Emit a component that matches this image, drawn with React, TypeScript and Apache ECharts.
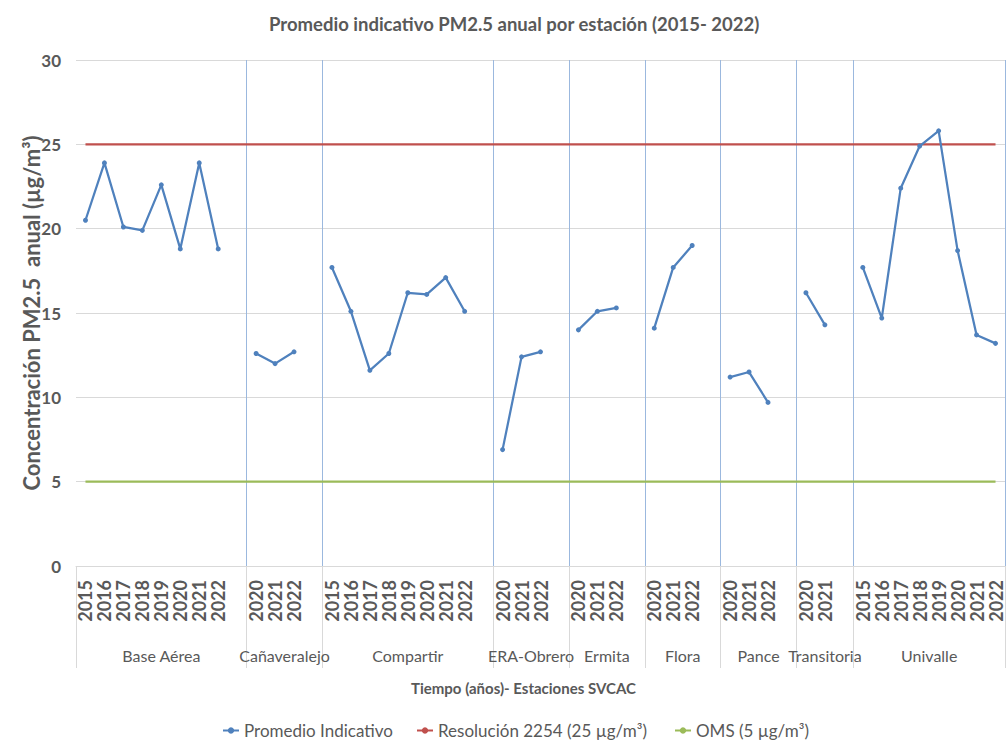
import React, { useEffect, useRef } from 'react';
import * as echarts from 'echarts';

const stations = ['Base Aérea', 'Cañaveralejo', 'Compartir', 'ERA-Obrero', 'Ermita', 'Flora', 'Pance', 'Transitoria', 'Univalle'];
const stationYears: string[][] = [
  ['2015', '2016', '2017', '2018', '2019', '2020', '2021', '2022'],
  ['2020', '2021', '2022'],
  ['2015', '2016', '2017', '2018', '2019', '2020', '2021', '2022'],
  ['2020', '2021', '2022'],
  ['2020', '2021', '2022'],
  ['2020', '2021', '2022'],
  ['2020', '2021', '2022'],
  ['2020', '2021'],
  ['2015', '2016', '2017', '2018', '2019', '2020', '2021', '2022'],
];
const stationValues: number[][] = [
  [20.5, 23.9, 20.1, 19.9, 22.6, 18.8, 23.9, 18.8],
  [12.6, 12.0, 12.7],
  [17.7, 15.1, 11.6, 12.6, 16.2, 16.1, 17.1, 15.1],
  [6.9, 12.4, 12.7],
  [14.0, 15.1, 15.3],
  [14.1, 17.7, 19.0],
  [11.2, 11.5, 9.7],
  [16.2, 14.3],
  [17.7, 14.7, 22.4, 24.9, 25.8, 18.7, 13.7, 13.2],
];
const resolucionLimit = 25;
const omsLimit = 5;
const yMin = 0;
const yMax = 30;
const yInterval = 5;

const seriesNames = ['Promedio Indicativo', 'Resolución 2254 (25 µg/m³)', 'OMS (5 µg/m³)'];
const legendLefts = [217, 411, 669];
const FONT = 'Lato, "Open Sans", sans-serif';
const TXT = '#595959';

export default function App() {
  const ref = useRef<HTMLDivElement>(null);
  useEffect(() => {
    const chart = echarts.init(ref.current!, null, { renderer: 'svg' });
    const cats: string[] = [];
    const vals: (number | null)[] = [];
    const starts: number[] = [];
    const centers: number[] = [];
    stations.forEach((s, i) => {
      const start = cats.length;
      starts.push(start);
      stationYears[i].forEach((y, j) => {
        cats.push(y);
        vals.push(stationValues[i][j]);
      });
      if (i < stations.length - 1) {
        cats.push('');
        vals.push(null);
      }
      centers.push((start + cats.length - 1) / 2);
    });
    const n = cats.length;
    const groupCats: string[] = new Array(2 * n + 1).fill('');
    centers.forEach((c, i) => {
      groupCats[Math.round(2 * c + 1)] = stations[i];
    });

    chart.setOption({
      animation: false,
      title: {
        text: 'Promedio indicativo PM2.5 anual por estación (2015- 2022)',
        left: 264,
        top: 9,
        textStyle: { fontFamily: FONT, fontSize: 18.5, fontWeight: 'bold', color: TXT },
      },
      legend: seriesNames.map((name, i) => ({
        data: [name],
        left: legendLefts[i],
        top: 717,
        itemWidth: 16,
        itemHeight: 8,
        itemGap: 0,
        textStyle: { fontFamily: FONT, fontSize: 17, color: TXT },
      })),
      grid: { left: 76, top: 60, width: 929, bottom: 183, outerBoundsMode: 'none', containLabel: false },
      xAxis: [
        {
          type: 'category',
          data: cats,
          boundaryGap: true,
          name: 'Tiempo (años)- Estaciones SVCAC',
          nameLocation: 'middle',
          nameGap: 114,
          nameTextStyle: { fontFamily: FONT, fontSize: 15, fontWeight: 'bold', color: TXT, padding: [0, 34, 0, 0] },
          axisLine: { show: true, lineStyle: { color: '#d9d9d9', width: 1 } },
          axisTick: {
            show: true,
            interval: (idx: number) => starts.includes(idx),
            length: 102,
            lineStyle: { color: '#d9d9d9', width: 1 },
          },
          splitLine: {
            show: true,
            interval: (idx: number) => idx > 0 && starts.includes(idx),
            lineStyle: { color: '#9bb8de', width: 1 },
          },
          axisLabel: {
            interval: 0,
            rotate: 90,
            margin: 14,
            lineHeight: 14,
            fontFamily: FONT,
            fontSize: 18,
            fontWeight: 'bold',
            color: TXT,
          },
        },
        {
          type: 'category',
          data: groupCats,
          boundaryGap: false,
          position: 'bottom',
          offset: 81,
          axisLine: { show: false },
          axisTick: { show: false },
          splitLine: { show: false },
          axisLabel: {
            interval: 0,
            margin: 0,
            fontFamily: FONT,
            fontSize: 16,
            color: TXT,
          },
        },
      ],
      yAxis: {
        type: 'value',
        min: yMin,
        max: yMax,
        interval: yInterval,
        name: 'Concentración PM2.5  anual (µg/m³)',
        nameLocation: 'middle',
        nameGap: 34,
        nameMoveOverlap: false,
        nameTextStyle: { fontFamily: FONT, fontSize: 22, fontWeight: 'bold', color: TXT },
        axisLine: { show: false },
        axisTick: { show: false },
        splitLine: { lineStyle: { color: '#d9d9d9', width: 1 } },
        axisLabel: { margin: 15, fontFamily: FONT, fontSize: 17, fontWeight: 'bold', color: TXT },
      },
      series: [
        {
          name: seriesNames[0],
          type: 'line',
          data: vals,
          xAxisIndex: 0,
          symbol: 'circle',
          symbolSize: 5,
          connectNulls: false,
          itemStyle: { color: '#4F81BD' },
          lineStyle: { color: '#4F81BD', width: 2.25 },
          z: 5,
        },
        {
          name: seriesNames[1],
          type: 'line',
          data: cats.map(() => resolucionLimit),
          xAxisIndex: 0,
          symbol: 'none',
          itemStyle: { color: '#C0504D' },
          lineStyle: { color: '#C0504D', width: 2.25 },
          z: 3,
        },
        {
          name: seriesNames[2],
          type: 'line',
          data: cats.map(() => omsLimit),
          xAxisIndex: 0,
          symbol: 'none',
          itemStyle: { color: '#9BBB59' },
          lineStyle: { color: '#9BBB59', width: 2.25 },
          z: 3,
        },
      ],
    });
    return () => chart.dispose();
  }, []);
  return (
    <div
      ref={ref}
      style={{ position: 'absolute', left: 0, top: 0, width: 1007, height: 749, background: '#fff' }}
    />
  );
}
